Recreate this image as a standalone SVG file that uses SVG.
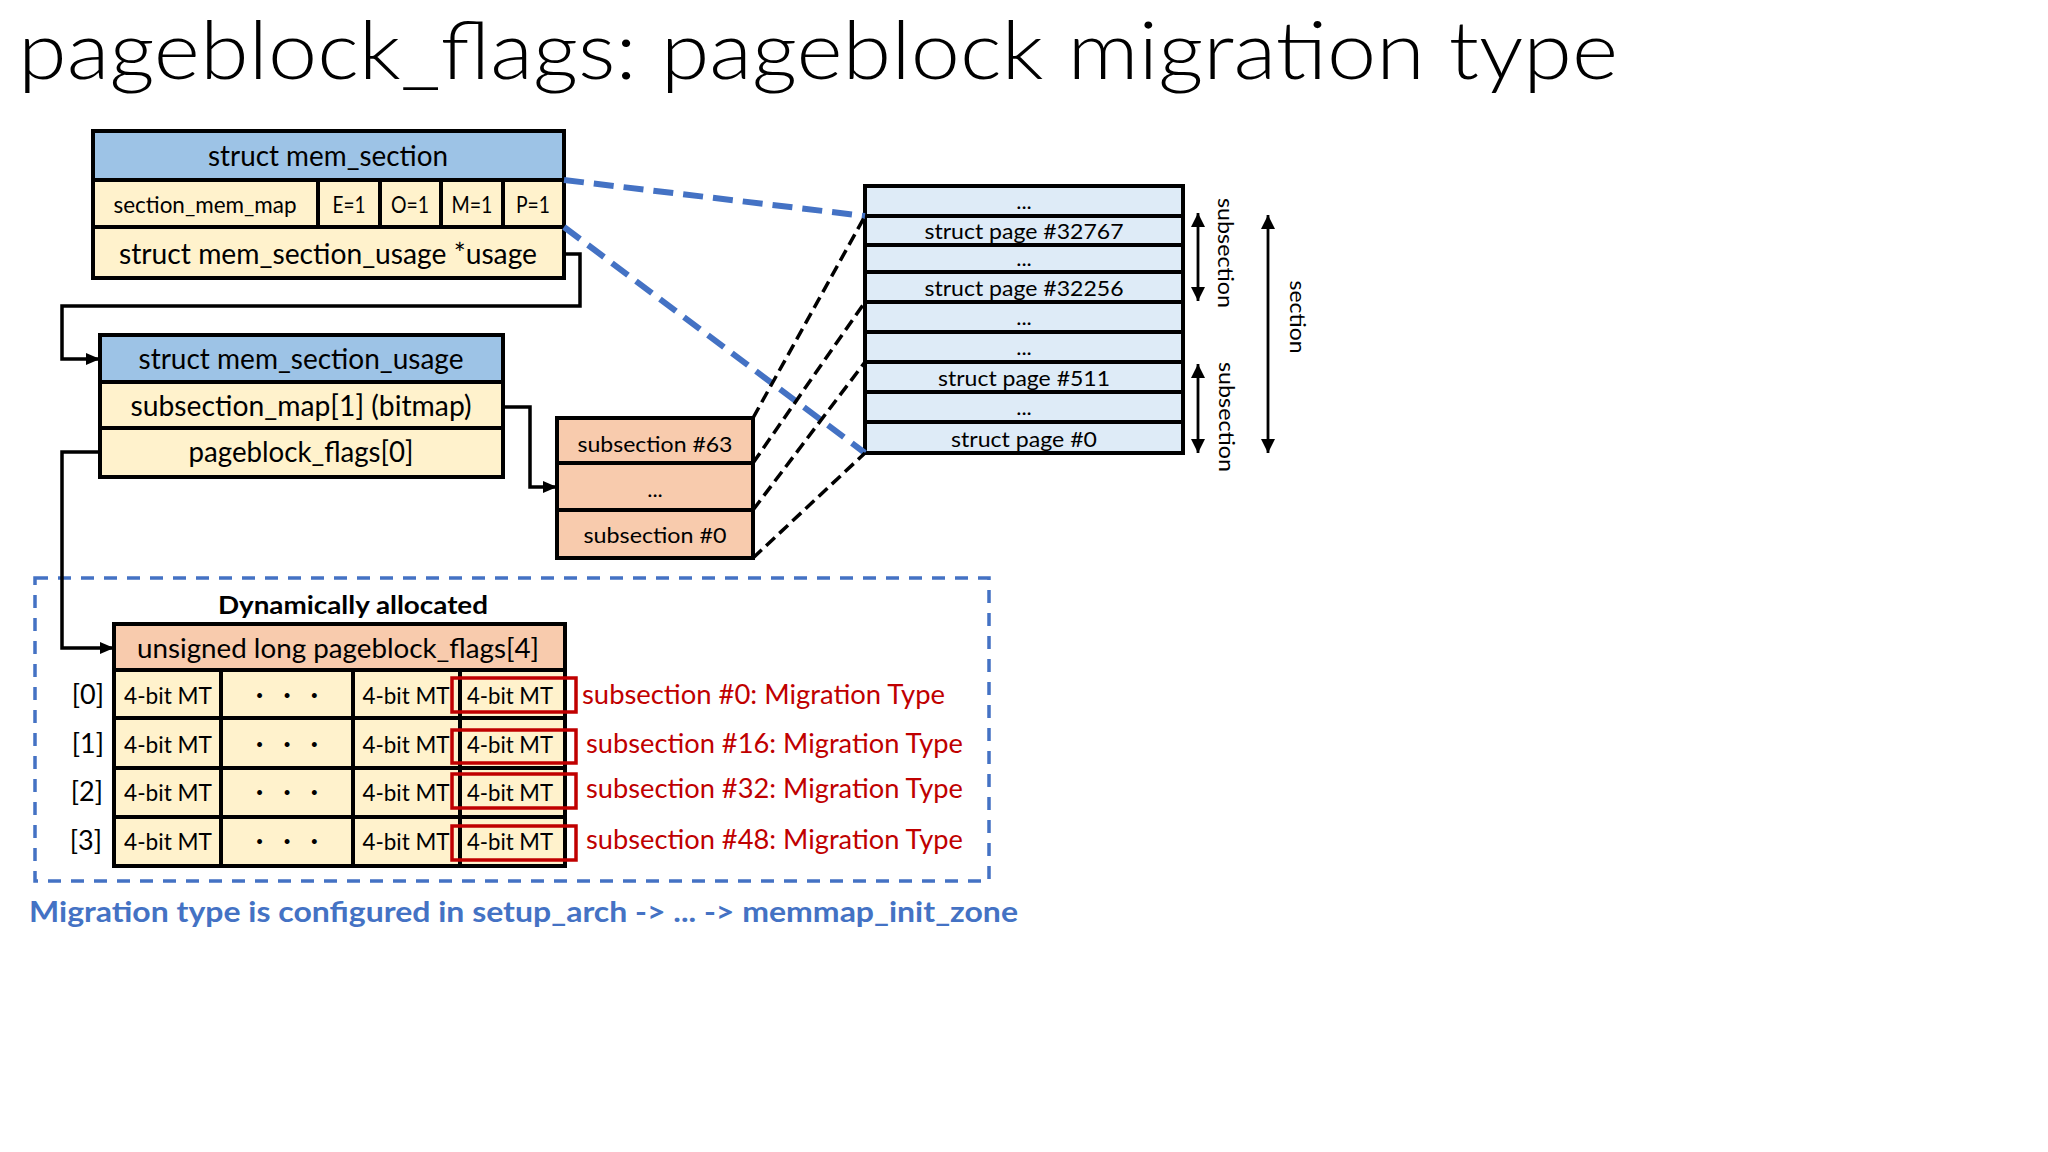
<svg xmlns="http://www.w3.org/2000/svg" width="2048" height="1152" viewBox="0 0 2048 1152">
<style>
  .t{font-family:Lato,"Liberation Sans",Arial,sans-serif;fill:#000}
  .c{text-anchor:middle}
  .box{stroke:#000;stroke-width:4}
  .div{stroke:#000;stroke-width:4;fill:none}
  .blue{fill:#9DC3E6}
  .yel{fill:#FFF2CC}
  .sal{fill:#F8CBAD}
  .pg{fill:#DEEBF7}
  .conn{stroke:#000;stroke-width:3.5;fill:none}
  .bdash{stroke:#4472C4;stroke-width:6;fill:none;stroke-dasharray:20 10}
  .kdash{stroke:#000;stroke-width:3.5;fill:none;stroke-dasharray:12 6}
  .redbox{stroke:#C00000;stroke-width:3.5;fill:none}
  .red{fill:#C00000}
  .dim{stroke:#000;stroke-width:2.8;fill:none}
  .dots{font-size:26px;font-weight:bold}
</style>
<defs>
  <marker id="arr" markerUnits="userSpaceOnUse" markerWidth="14" markerHeight="12" refX="14" refY="6" orient="auto">
    <path d="M0,0 L14,6 L0,12 Z" fill="#000"/>
  </marker>
  <marker id="tip" markerUnits="userSpaceOnUse" markerWidth="14" markerHeight="14" refX="14" refY="7" orient="auto-start-reverse">
    <path d="M0,0 L14,7 L0,14 Z" fill="#000"/>
  </marker>
</defs>
<rect x="0" y="0" width="2048" height="1152" fill="#fff"/>

<text id="title" class="t" x="18" y="79" font-size="80" font-weight="300" textLength="1600" lengthAdjust="spacingAndGlyphs">pageblock_flags: pageblock migration type</text>

<g id="mem_section">
  <rect class="box blue" x="93" y="131" width="471" height="49"/>
  <rect class="box yel" x="93" y="180" width="471" height="47"/>
  <rect class="box yel" x="93" y="227" width="471" height="51"/>
  <line class="div" x1="318" y1="180" x2="318" y2="227"/>
  <line class="div" x1="380" y1="180" x2="380" y2="227"/>
  <line class="div" x1="441" y1="180" x2="441" y2="227"/>
  <line class="div" x1="503" y1="180" x2="503" y2="227"/>
  <text class="t c" x="328" y="166" font-size="29" textLength="240" lengthAdjust="spacingAndGlyphs">struct mem_section</text>
  <text class="t c" x="205" y="213" font-size="24" textLength="183" lengthAdjust="spacingAndGlyphs">section_mem_map</text>
  <text class="t c" x="349" y="213" font-size="24" textLength="33" lengthAdjust="spacingAndGlyphs">E=1</text>
  <text class="t c" x="410" y="213" font-size="24" textLength="38" lengthAdjust="spacingAndGlyphs">O=1</text>
  <text class="t c" x="472" y="213" font-size="24" textLength="41" lengthAdjust="spacingAndGlyphs">M=1</text>
  <text class="t c" x="533" y="213" font-size="24" textLength="34" lengthAdjust="spacingAndGlyphs">P=1</text>
  <text class="t c" x="328" y="264" font-size="29" textLength="418" lengthAdjust="spacingAndGlyphs">struct mem_section_usage *usage</text>
</g>

<g id="mem_section_usage">
  <rect class="box blue" x="100" y="335" width="403" height="47"/>
  <rect class="box yel" x="100" y="382" width="403" height="46"/>
  <rect class="box yel" x="100" y="428" width="403" height="49"/>
  <text class="t c" x="301" y="369" font-size="29" textLength="325" lengthAdjust="spacingAndGlyphs">struct mem_section_usage</text>
  <text class="t c" x="301" y="416" font-size="29" textLength="341" lengthAdjust="spacingAndGlyphs">subsection_map[1] (bitmap)</text>
  <text class="t c" x="301" y="462" font-size="29" textLength="225" lengthAdjust="spacingAndGlyphs">pageblock_flags[0]</text>
</g>

<g id="subsections">
  <rect class="box sal" x="557" y="418" width="196" height="45"/>
  <rect class="box sal" x="557" y="463" width="196" height="47"/>
  <rect class="box sal" x="557" y="510" width="196" height="48"/>
  <text class="t c" x="655" y="452" font-size="22" textLength="155" lengthAdjust="spacingAndGlyphs">subsection #63</text>
  <text class="t c" x="655" y="497" font-size="22">...</text>
  <text class="t c" x="655" y="543" font-size="22" textLength="143" lengthAdjust="spacingAndGlyphs">subsection #0</text>
</g>

<g id="struct_pages">
  <rect class="box pg" x="865" y="186" width="318" height="267"/>
  <line class="div" x1="865" y1="216" x2="1183" y2="216"/>
  <line class="div" x1="865" y1="245" x2="1183" y2="245"/>
  <line class="div" x1="865" y1="272" x2="1183" y2="272"/>
  <line class="div" x1="865" y1="302" x2="1183" y2="302"/>
  <line class="div" x1="865" y1="332" x2="1183" y2="332"/>
  <line class="div" x1="865" y1="362" x2="1183" y2="362"/>
  <line class="div" x1="865" y1="392" x2="1183" y2="392"/>
  <line class="div" x1="865" y1="422" x2="1183" y2="422"/>
  <text class="t c" x="1024" y="209" font-size="22">...</text>
  <text class="t c" x="1024" y="239" font-size="22" textLength="199" lengthAdjust="spacingAndGlyphs">struct page #32767</text>
  <text class="t c" x="1024" y="266" font-size="22">...</text>
  <text class="t c" x="1024" y="296" font-size="22" textLength="199" lengthAdjust="spacingAndGlyphs">struct page #32256</text>
  <text class="t c" x="1024" y="325" font-size="22">...</text>
  <text class="t c" x="1024" y="355" font-size="22">...</text>
  <text class="t c" x="1024" y="386" font-size="22" textLength="172" lengthAdjust="spacingAndGlyphs">struct page #511</text>
  <text class="t c" x="1024" y="415" font-size="22">...</text>
  <text class="t c" x="1024" y="447" font-size="22" textLength="146" lengthAdjust="spacingAndGlyphs">struct page #0</text>
</g>

<g id="range_labels">
  <line class="dim" x1="1198" y1="213" x2="1198" y2="301" marker-start="url(#tip)" marker-end="url(#tip)"/>
  <line class="dim" x1="1198" y1="364" x2="1198" y2="453" marker-start="url(#tip)" marker-end="url(#tip)"/>
  <line class="dim" x1="1268" y1="215" x2="1268" y2="453" marker-start="url(#tip)" marker-end="url(#tip)"/>
  <text class="t c" transform="translate(1218,253) rotate(90)" font-size="22" textLength="110" lengthAdjust="spacingAndGlyphs">subsection</text>
  <text class="t c" transform="translate(1219,417) rotate(90)" font-size="22" textLength="110" lengthAdjust="spacingAndGlyphs">subsection</text>
  <text class="t c" transform="translate(1290,317) rotate(90)" font-size="22" textLength="73" lengthAdjust="spacingAndGlyphs">section</text>
</g>

<g id="dynamically_allocated">
  <rect x="35" y="578" width="954" height="303" fill="none" stroke="#4472C4" stroke-width="3.5" stroke-dasharray="13 10"/>
  <text class="t c" x="353" y="614" font-size="25" font-weight="bold" textLength="270" lengthAdjust="spacingAndGlyphs">Dynamically allocated</text>
</g>

<g id="pageblock_flags">
  <rect class="box sal" x="114" y="624" width="451" height="46"/>
  <rect class="box yel" x="114" y="670" width="451" height="48"/>
  <rect class="box yel" x="114" y="718" width="451" height="50"/>
  <rect class="box yel" x="114" y="768" width="451" height="49"/>
  <rect class="box yel" x="114" y="817" width="451" height="49"/>
  <line class="div" x1="221" y1="670" x2="221" y2="866"/>
  <line class="div" x1="353" y1="670" x2="353" y2="866"/>
  <line class="div" x1="460" y1="670" x2="460" y2="866"/>
  <text class="t c" x="338" y="658" font-size="27" textLength="402" lengthAdjust="spacingAndGlyphs">unsigned long pageblock_flags[4]</text>

  <text class="t" x="104" y="704" font-size="27" text-anchor="end">[0]</text>
  <text class="t" x="104" y="753" font-size="27" text-anchor="end">[1]</text>
  <text class="t" x="103" y="801" font-size="27" text-anchor="end">[2]</text>
  <text class="t" x="102" y="850" font-size="27" text-anchor="end">[3]</text>

  <text class="t c" x="168" y="704" font-size="23" textLength="88" lengthAdjust="spacingAndGlyphs">4-bit MT</text>
  <text class="t c dots" x="287" y="704" textLength="62" lengthAdjust="spacing">· · ·</text>
  <text class="t c" x="406" y="704" font-size="23" textLength="87" lengthAdjust="spacingAndGlyphs">4-bit MT</text>
  <text class="t c" x="510" y="704" font-size="23" textLength="86" lengthAdjust="spacingAndGlyphs">4-bit MT</text>

  <text class="t c" x="168" y="753" font-size="23" textLength="88" lengthAdjust="spacingAndGlyphs">4-bit MT</text>
  <text class="t c dots" x="287" y="753" textLength="62" lengthAdjust="spacing">· · ·</text>
  <text class="t c" x="406" y="753" font-size="23" textLength="87" lengthAdjust="spacingAndGlyphs">4-bit MT</text>
  <text class="t c" x="510" y="753" font-size="23" textLength="86" lengthAdjust="spacingAndGlyphs">4-bit MT</text>

  <text class="t c" x="168" y="801" font-size="23" textLength="88" lengthAdjust="spacingAndGlyphs">4-bit MT</text>
  <text class="t c dots" x="287" y="801" textLength="62" lengthAdjust="spacing">· · ·</text>
  <text class="t c" x="406" y="801" font-size="23" textLength="87" lengthAdjust="spacingAndGlyphs">4-bit MT</text>
  <text class="t c" x="510" y="801" font-size="23" textLength="86" lengthAdjust="spacingAndGlyphs">4-bit MT</text>

  <text class="t c" x="168" y="850" font-size="23" textLength="88" lengthAdjust="spacingAndGlyphs">4-bit MT</text>
  <text class="t c dots" x="287" y="850" textLength="62" lengthAdjust="spacing">· · ·</text>
  <text class="t c" x="406" y="850" font-size="23" textLength="87" lengthAdjust="spacingAndGlyphs">4-bit MT</text>
  <text class="t c" x="510" y="850" font-size="23" textLength="86" lengthAdjust="spacingAndGlyphs">4-bit MT</text>

  <rect class="redbox" x="452" y="678" width="124" height="34"/>
  <rect class="redbox" x="452" y="730" width="124" height="33"/>
  <rect class="redbox" x="452" y="774" width="124" height="34"/>
  <rect class="redbox" x="452" y="826" width="124" height="34"/>

  <text class="t red" x="582" y="704" font-size="26" textLength="363" lengthAdjust="spacingAndGlyphs">subsection #0: Migration Type</text>
  <text class="t red" x="586" y="753" font-size="26" textLength="377" lengthAdjust="spacingAndGlyphs">subsection #16: Migration Type</text>
  <text class="t red" x="586" y="798" font-size="26" textLength="377" lengthAdjust="spacingAndGlyphs">subsection #32: Migration Type</text>
  <text class="t red" x="586" y="849" font-size="26" textLength="377" lengthAdjust="spacingAndGlyphs">subsection #48: Migration Type</text>
</g>

<g id="connectors">
  <path class="bdash" d="M564,180 L865,216"/>
  <path class="bdash" d="M564,227 L865,453"/>
  <path class="kdash" d="M753,418 L865,216"/>
  <path class="kdash" d="M753,463 L865,302"/>
  <path class="kdash" d="M753,510 L865,362"/>
  <path class="kdash" d="M753,558 L865,453"/>
  <path class="conn" d="M564,254 L580,254 L580,306 L62,306 L62,359 L100,359" marker-end="url(#arr)"/>
  <path class="conn" d="M503,407 L530,407 L530,487 L557,487" marker-end="url(#arr)"/>
  <path class="conn" d="M100,452 L62,452 L62,648 L114,648" marker-end="url(#arr)"/>
</g>

<text id="note" class="t" x="29" y="922" font-size="28" font-weight="bold" style="fill:#4472C4" textLength="989" lengthAdjust="spacingAndGlyphs">Migration type is configured in setup_arch -&gt; ... -&gt; memmap_init_zone</text>
</svg>
